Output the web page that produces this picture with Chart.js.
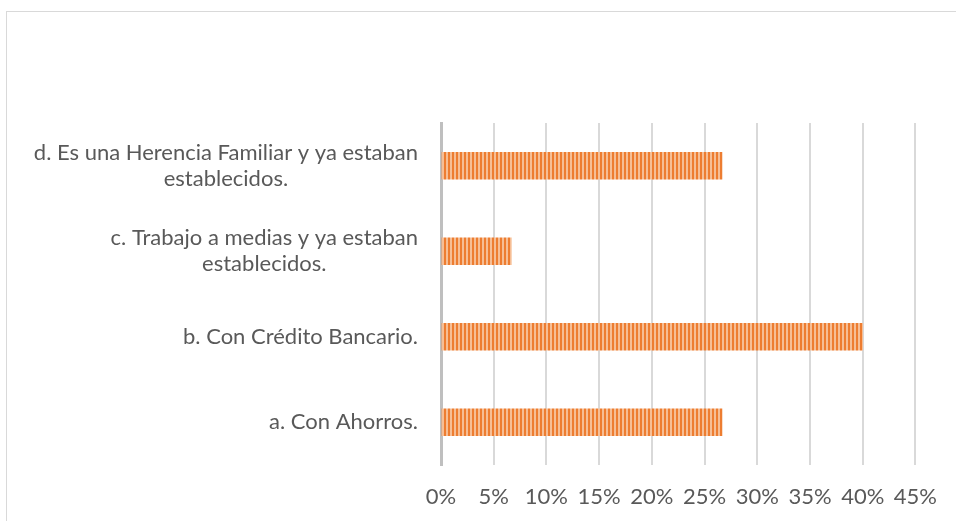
<!DOCTYPE html>
<html>
<head>
<meta charset="utf-8">
<script src="https://cdn.jsdelivr.net/npm/chart.js@4"></script>
<style>
  html, body { margin: 0; padding: 0; background: #fff; }
  #wrap { position: relative; width: 956px; height: 521px; overflow: hidden; }
  #frame { position: absolute; left: 6px; top: 11px; width: 1000px; height: 600px; border: 1px solid #D9D9D9; box-sizing: border-box; }
  canvas { position: absolute; left: 0; top: 0; }
</style>
</head>
<body>
<div id="wrap">
  <div id="frame"></div>
  <canvas id="c" width="956" height="521"></canvas>
</div>
<script>
const categories = [
  ["d. Es una Herencia Familiar y ya estaban", "establecidos."],
  ["c. Trabajo a medias y ya estaban", "establecidos."],
  ["b. Con Crédito Bancario."],
  ["a. Con Ahorros."]
];
const values = [0.2667, 0.0667, 0.40, 0.2667];
const xTicks = [0, 0.05, 0.10, 0.15, 0.20, 0.25, 0.30, 0.35, 0.40, 0.45];

const FONT = "Lato";
const FS = 22;
const TEXT = "#595959";

function stripePattern() {
  const t = document.createElement('canvas');
  t.width = 4; t.height = 4;
  const g = t.getContext('2d');
  g.fillStyle = '#F6BE95';
  g.fillRect(0, 0, 4, 4);
  g.fillStyle = '#ED7D31';
  g.fillRect(0, 0, 2, 4);
  return document.getElementById('c').getContext('2d').createPattern(t, 'repeat');
}

const yLabelPlugin = {
  id: 'yLabels',
  afterDraw(chart) {
    const ctx = chart.ctx;
    const ys = chart.scales.y;
    ctx.save();
    ctx.font = FS + "px " + FONT;
    ctx.fillStyle = TEXT;
    ctx.textBaseline = 'middle';
    ctx.textAlign = 'center';
    const rightEdge = 418;
    const lh = 26;
    categories.forEach((lines, i) => {
      const yc = ys.getPixelForTick(i);
      const w = Math.max(...lines.map(l => ctx.measureText(l).width));
      const cx = rightEdge - w / 2;
      const y0 = yc - (lines.length - 1) * lh / 2;
      lines.forEach((l, j) => ctx.fillText(l, cx, y0 + j * lh));
    });
    ctx.restore();
  }
};

new Chart(document.getElementById('c'), {
  type: 'bar',
  data: {
    labels: categories,
    datasets: [{
      data: values,
      backgroundColor: stripePattern(),
      borderWidth: 0,
      barThickness: 27
    }]
  },
  options: {
    indexAxis: 'y',
    responsive: false,
    animation: false,
    events: [],
    layout: { padding: { left: 0, right: 35, top: 123, bottom: 0 } },
    plugins: { legend: { display: false }, tooltip: { enabled: false } },
    scales: {
      x: {
        type: 'linear',
        min: 0, max: 0.45,
        afterBuildTicks(scale) { scale.ticks = xTicks.map(v => ({ value: v })); },
        afterFit(scale) { scale.height = 56; },
        grid: { color: '#D9D9D9', lineWidth: 2, drawTicks: false },
        border: { display: false },
        ticks: {
          padding: 19,
          maxRotation: 0,
          autoSkip: false,
          color: TEXT,
          font: { family: FONT, size: FS },
          callback: v => Math.round(v * 100) + '%'
        }
      },
      y: {
        type: 'category',
        afterFit(scale) { scale.width = 441; },
        grid: { display: false, drawTicks: false },
        border: { display: true, color: '#BFBFBF', width: 3 },
        ticks: { display: false }
      }
    }
  },
  plugins: [yLabelPlugin]
});
</script>
</body>
</html>
